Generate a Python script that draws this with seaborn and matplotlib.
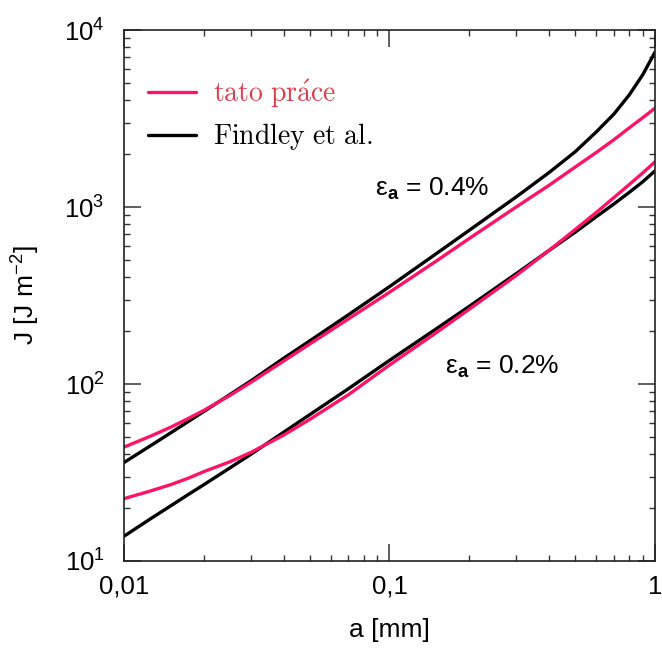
import numpy as np
import pandas as pd
import matplotlib
matplotlib.use("Agg")
import matplotlib.pyplot as plt
from matplotlib.lines import Line2D
from matplotlib.ticker import LogLocator, NullFormatter
import seaborn as sns

# crack length a [mm]
a_mm = [0.01, 0.0125, 0.015, 0.0175, 0.02, 0.025, 0.03, 0.04, 0.05, 0.07,
        0.1, 0.15, 0.2, 0.3, 0.4, 0.5, 0.6, 0.7, 0.8, 0.9, 1.0]

# J-integral [J m^-2], this work (tato práce)
J_this_04 = [44, 50.5, 57, 64, 71, 86, 102, 135, 168, 233,
             330, 495, 665, 1000, 1330, 1680, 2030, 2400, 2800, 3200, 3620]
J_this_02 = [22.5, 24.8, 27, 29.4, 32, 36.3, 41, 51.5, 63, 87,
             128, 195, 265, 410, 570, 745, 930, 1130, 1340, 1560, 1800]

# J-integral [J m^-2], Findley et al.
J_findley_04 = [36, 44.5, 53, 61.5, 70, 87, 104, 140, 175, 246,
                355, 545, 740, 1140, 1570, 2050, 2650, 3350, 4300, 5600, 7500]
J_findley_02 = [13.8, 17.2, 20.5, 23.8, 27, 33.5, 40, 53.5, 67, 94,
                136, 205, 275, 420, 570, 720, 880, 1040, 1210, 1390, 1600]

sources = ["tato práce", "Findley et al."]
strains = ["0.4%", "0.2%"]
x_ticks = [0.01, 0.1, 1]
x_tick_labels = ["0,01", "0,1", "1"]
y_ticks = [10, 100, 1000, 10000]
y_tick_labels = [r"$10^{1}$", r"$10^{2}$", r"$10^{3}$", r"$10^{4}$"]

rows = []
for src, strain, J in [(sources[0], strains[0], J_this_04),
                       (sources[0], strains[1], J_this_02),
                       (sources[1], strains[0], J_findley_04),
                       (sources[1], strains[1], J_findley_02)]:
    for a, j in zip(a_mm, J):
        rows.append({"a": a, "J": j, "source": src, "strain": strain})
df = pd.DataFrame(rows)

sns.set_theme(style="ticks")
plt.rcParams["font.family"] = ["Liberation Sans", "DejaVu Sans"]
plt.rcParams["mathtext.fontset"] = "custom"
plt.rcParams["mathtext.rm"] = "Liberation Sans"
plt.rcParams["mathtext.it"] = "Liberation Sans:italic"
plt.rcParams["mathtext.bf"] = "Liberation Sans:bold"
for key in ["text.color", "axes.labelcolor", "xtick.color", "ytick.color",
            "xtick.labelcolor", "ytick.labelcolor"]:
    plt.rcParams[key] = "black"

fig = plt.figure(figsize=(6.62, 6.53), dpi=100)
ax = fig.add_axes([0.1873, 0.1409, 0.8021, 0.8131])

pink = "#ff1468"
sns.lineplot(data=df, x="a", y="J", hue="source", units="strain",
             estimator=None, palette={sources[0]: pink, sources[1]: "black"},
             hue_order=[sources[1], sources[0]], linewidth=2.4, ax=ax,
             legend=False, sort=True)

ax.set_xscale("log")
ax.set_yscale("log")
ax.set_xlim(0.01, 1)
ax.set_ylim(10, 10000)

ax.set_xticks(x_ticks)
ax.set_xticklabels(x_tick_labels)
ax.set_yticks(y_ticks)
ax.set_yticklabels(y_tick_labels)
ax.xaxis.set_minor_locator(LogLocator(base=10, subs=np.arange(2, 10)))
ax.yaxis.set_minor_locator(LogLocator(base=10, subs=np.arange(2, 10)))
ax.xaxis.set_minor_formatter(NullFormatter())
ax.yaxis.set_minor_formatter(NullFormatter())

ax.tick_params(which="both", direction="in", top=True, right=True,
               color="#333333", labelsize=18.5)
ax.tick_params(which="major", length=12, width=1.1)
ax.tick_params(which="minor", length=4.5, width=1.0)
ax.tick_params(axis="x", which="major", pad=10)
ax.tick_params(axis="y", which="major", pad=14)
for side in ["left", "bottom", "top", "right"]:
    ax.spines[side].set_linewidth(1.2)
    ax.spines[side].set_color("#222222")

ax.set_xlabel("a [mm]", fontsize=19, labelpad=14)
ax.set_ylabel(r"J [J m$^{-2}$]", fontsize=19, labelpad=16)

# strain amplitude labels
ax.text(0.088, 1260, r"ε$_{\mathbf{a}}$ = 0.4%", fontsize=19,
        va="center", ha="left")
ax.text(0.162, 125, r"ε$_{\mathbf{a}}$ = 0.2%", fontsize=19,
        va="center", ha="left")

# legend
handles = [Line2D([], [], color=pink, linewidth=2.4),
           Line2D([], [], color="black", linewidth=2.4)]
labels = [r"$\mathrm{tato\ pr\acute{a}ce}$", r"$\mathrm{Findley\ et\ al.}$"]
leg = ax.legend(handles, labels, loc="upper left", bbox_to_anchor=(0.045, 0.912),
                frameon=False, borderpad=0, borderaxespad=0, fontsize=20,
                handlelength=1.75, handletextpad=0.6, labelspacing=0.42)
text_colors = ["#d9404e", "black"]
for t, c in zip(leg.get_texts(), text_colors):
    t.set_math_fontfamily("cm")
    t.set_color(c)

fig.savefig("out.png", dpi=100)
